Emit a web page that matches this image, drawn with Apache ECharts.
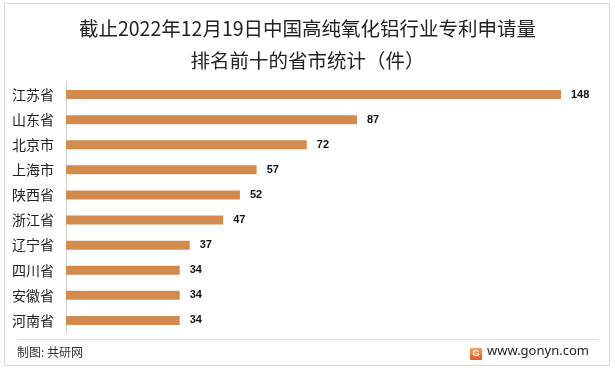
<!DOCTYPE html>
<html><head><meta charset="utf-8">
<script src="https://cdn.jsdelivr.net/npm/echarts@6/dist/echarts.min.js"></script>
<style>html,body{margin:0;padding:0;background:#fff}#c{width:615px;height:370px}</style>
</head><body><div id="c"></div>
<script>
const categories = ['江苏省','山东省','北京市','上海市','陕西省','浙江省','辽宁省','四川省','安徽省','河南省'];
const values = [148,87,72,57,52,47,37,34,34,34];
const titleLines = ['截止2022年12月19日中国高纯氧化铝行业专利申请量','排名前十的省市统计（件）'];

const chart = echarts.init(document.getElementById('c'), null, {renderer:'canvas'});
const font = '"Noto Sans CJK SC","Microsoft YaHei",sans-serif';
chart.setOption({
  backgroundColor:'#fff',
  animation:false,
  title:{
    text: titleLines.join('\n'),
    left:'center', top:8,
    textStyle:{fontFamily:font, fontSize:19.5, fontWeight:'normal', color:'#222', lineHeight:32}
  },
  grid:{left:66, top:82, width:495, height:251},
  xAxis:{type:'value', min:0, max:148, show:false},
  yAxis:{
    type:'category', data:categories, inverse:true,
    axisLine:{show:true, lineStyle:{color:'#d0d0d0', width:1}},
    axisTick:{show:false},
    axisLabel:{fontFamily:font, fontSize:14, color:'#222', margin:12}
  },
  series:[{
    type:'bar', data:values, barWidth:9,
    itemStyle:{color:'#D38B4D'},
    label:{show:true, position:'right', distance:10, fontFamily:'"Liberation Sans",Arial,sans-serif', fontSize:11, fontWeight:'bold', color:'#111'}
  }],
  graphic:[
    {type:'rect', shape:{x:4.5,y:3.5,width:605,height:362}, style:{fill:'none', stroke:'#d9d9d9', lineWidth:1}, silent:true},
    {type:'line', shape:{x1:18,y1:339.5,x2:598,y2:339.5}, style:{stroke:'#e0e0e0', lineWidth:1}},
    {type:'text', left:17, top:346, style:{text:'制图: 共研网', font:'12px '+font, fill:'#333'}},
    {type:'rect', shape:{x:470,y:348,width:12,height:12, r:1}, style:{fill:{type:'linear',x:0,y:0,x2:0,y2:1,colorStops:[{offset:0,color:'#f7a35c'},{offset:1,color:'#e8572a'}]}}},
    {type:'text', x:476, y:354, style:{text:'G', font:'bold 9px sans-serif', fill:'#fff', align:'center', verticalAlign:'middle'}},
    {type:'text', left:487, top:345, style:{text:'www.gonyn.com', font:'13px "Noto Sans","DejaVu Sans",sans-serif', fill:'#222'}}
  ]
});
</script></body></html>
